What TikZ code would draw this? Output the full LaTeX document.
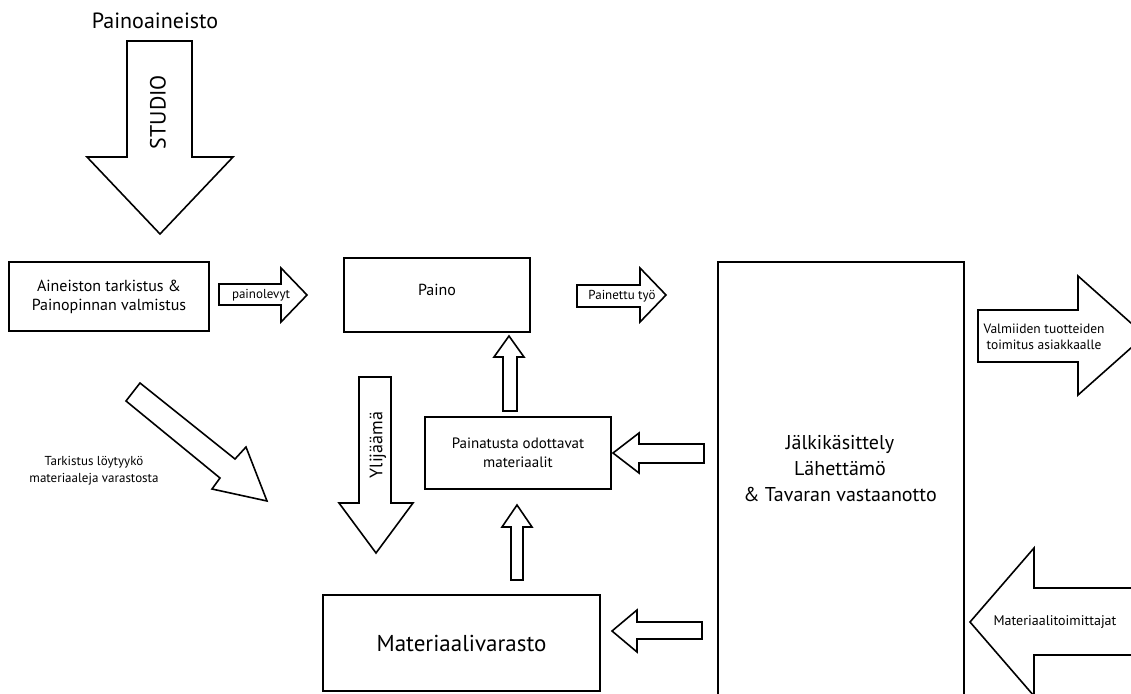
\documentclass[tikz,border=0pt]{standalone}
\usepackage{fontspec}
\setmainfont{PT Sans}
\begin{document}
\begin{tikzpicture}[x=1pt,y=-1pt,
  box/.style={draw,line width=1.6pt,inner sep=0pt,align=center},
  barrow/.style={draw,line width=1.6pt,line join=miter,fill=white},
  lbl/.style={inner sep=0pt,align=center}]
\useasboundingbox (0,0) rectangle (1131,693);
\clip (0,0) rectangle (1131,693);
% title
\node[lbl,font=\fontsize{22}{26}\selectfont] (title) at (155,21) {Painoaineisto};
% STUDIO arrow
\draw[barrow] (127,41) -- (192,41) -- (192,157) -- (233,157) -- (160,234) -- (87,157) -- (127,157) -- cycle;
\node[lbl,rotate=90,font=\fontsize{22}{26}\selectfont] (studio) at (158,112) {STUDIO};
% boxes
\node[box,minimum width=200,minimum height=69,font=\fontsize{16}{19}\selectfont] (aineisto) at (109,296.5) {Aineiston tarkistus \&\\Painopinnan valmistus};
\node[box,minimum width=186,minimum height=74] (paino) at (437,295) {};
\node[lbl,font=\fontsize{16}{19}\selectfont] (painotxt) at (437,290) {Paino};
\node[box,minimum width=186,minimum height=72,font=\fontsize{15}{19}\selectfont] (odott) at (518,453) {Painatusta odottavat\\materiaalit};
\node[box,minimum width=277,minimum height=96,font=\fontsize{23}{26}\selectfont] (varasto) at (461.5,643) {Materiaalivarasto};
\node[box,minimum width=246,minimum height=440] (jalki) at (841,482) {};
\node[lbl,font=\fontsize{20}{26}\selectfont] (jalkitxt) at (840,469) {Jälkikäsittely\\Lähettämö\\\& Tavaran vastaanotto};
% painolevyt
\draw[barrow] (219,284) -- (281,284) -- (281,268) -- (307,295) -- (281,322) -- (281,305) -- (219,305) -- cycle;
\node[lbl,font=\fontsize{13}{15}\selectfont] (painolevyt) at (261,295) {painolevyt};
% diagonal
\draw[barrow] (140,383) -- (235,459) -- (246,447) -- (267,501) -- (212,489) -- (220,478) -- (126,401) -- cycle;
\node[lbl,font=\fontsize{13}{17}\selectfont] (tark) at (94,470.5) {Tarkistus löytyykö\\materiaaleja varastosta};
% Painettu tyo
\draw[barrow] (577,285) -- (640,285) -- (640,268) -- (666,295) -- (640,322) -- (640,307) -- (577,307) -- cycle;
\node[lbl,font=\fontsize{13}{15}\selectfont] (painettu) at (622,296) {Painettu työ};
% up arrow to Paino
\draw[barrow] (503,411) -- (503,357) -- (494,357) -- (509,336) -- (524,357) -- (517,357) -- (517,411) -- cycle;
% Ylijaama
\draw[barrow] (359,377) -- (391,377) -- (391,503) -- (413,503) -- (376,553) -- (339,503) -- (359,503) -- cycle;
\node[lbl,rotate=90,font=\fontsize{18}{21}\selectfont] (ylij) at (378,445) {Ylijäämä};
% left arrow into odottavat
\draw[barrow] (704,444) -- (639,444) -- (639,433) -- (613,453) -- (639,473) -- (639,463) -- (704,463) -- cycle;
% up arrow from varasto
\draw[barrow] (511,580) -- (511,527) -- (502,527) -- (517,505) -- (532,527) -- (523,527) -- (523,580) -- cycle;
% left arrow into varasto
\draw[barrow] (702,622) -- (637,622) -- (637,610) -- (612,631) -- (637,652) -- (637,639) -- (702,639) -- cycle;
% Valmiiden
\draw[barrow] (978,310) -- (1078,310) -- (1078,276) -- (1145,335.5) -- (1078,395) -- (1078,362) -- (978,362) -- cycle;
\node[lbl,font=\fontsize{13.5}{16}\selectfont] (valm) at (1044,337) {Valmiiden tuotteiden\\toimitus asiakkaalle};
% Materiaalitoimittajat
\draw[barrow] (1140,588) -- (1034,588) -- (1034,548) -- (970,622) -- (1034,696) -- (1034,655) -- (1140,655) -- cycle;
\node[lbl,font=\fontsize{14}{16}\selectfont] (toim) at (1055,622) {Materiaalitoimittajat};
\end{tikzpicture}
\end{document}
